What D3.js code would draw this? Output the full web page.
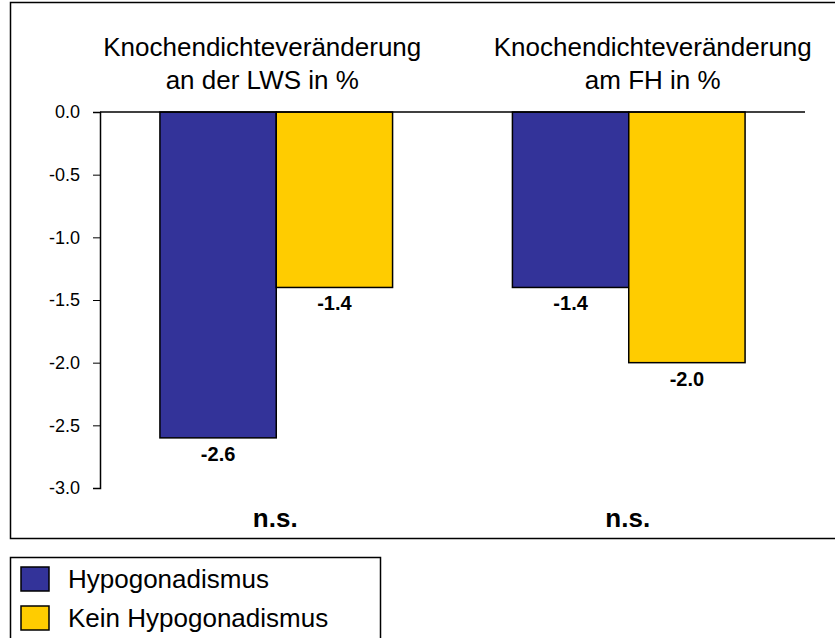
<!DOCTYPE html>
<html><head><meta charset="utf-8">
<script src="https://cdn.jsdelivr.net/npm/d3@7"></script>
<style>body{margin:0;background:#fff}text{font-family:"Liberation Sans",Arial,sans-serif}</style>
</head><body>
<svg id="chart" width="835" height="638"></svg>
<script>
const groups = ["LWS", "FH"];
const titles = [["Knochendichteveränderung", "an der LWS in %"], ["Knochendichteveränderung", "am FH in %"]];
const series = ["Hypogonadismus", "Kein Hypogonadismus"];
const values = [[-2.6, -1.4], [-1.4, -2.0]];
const ticks = [0, -0.5, -1.0, -1.5, -2.0, -2.5, -3.0];
const colors = ["#333399", "#FFCC00"];

const svg = d3.select("#chart");
svg.append("rect").attr("x", 10.5).attr("y", 2.5).attr("width", 835).attr("height", 536)
  .attr("fill", "none").attr("stroke", "#000").attr("stroke-width", 1.5);

const y = d3.scaleLinear().domain([0, -3]).range([112, 488]);
const x0 = d3.scaleBand().domain(groups).range([100, 805]).paddingInner(0.34).paddingOuter(0.17);
const x1 = d3.scaleBand().domain(series).range([0, x0.bandwidth()]);

svg.append("g").attr("transform", "translate(100,0)")
  .call(d3.axisLeft(y).tickValues(ticks).tickFormat(d => d.toFixed(1)).tickSize(7))
  .call(g => g.select(".domain").attr("stroke-width", 1.5))
  .call(g => g.selectAll("text").attr("font-size", 18).attr("x", -20).attr("fill", "#000"));

const titleShift = [-14, 24];
const nsShift = [-1, -1];
groups.forEach((gName, gi) => {
  const g = svg.append("g").attr("transform", `translate(${x0(gName)},0)`);
  values[gi].forEach((v, si) => {
    g.append("rect").attr("x", x1(series[si])).attr("y", y(0)).attr("width", x1.bandwidth())
      .attr("height", y(v) - y(0)).attr("fill", colors[si]).attr("stroke", "#000").attr("stroke-width", 1.5);
    g.append("text").attr("x", x1(series[si]) + x1.bandwidth() / 2).attr("y", y(v) + 23)
      .attr("text-anchor", "middle").attr("font-size", 20).attr("font-weight", "bold").text(v.toFixed(1));
  });
  const cx = x0.bandwidth() / 2;
  titles[gi].forEach((t, li) => g.append("text").attr("x", cx + titleShift[gi]).attr("y", 56 + li * 33)
    .attr("text-anchor", "middle").attr("font-size", 26).text(t));
  g.append("text").attr("x", cx + nsShift[gi]).attr("y", 527).attr("text-anchor", "middle")
    .attr("font-size", 26).attr("font-weight", "bold").text("n.s.");
});

svg.append("line").attr("x1", 100).attr("x2", 805).attr("y1", y(0)).attr("y2", y(0))
  .attr("stroke", "#000").attr("stroke-width", 1.5);

const leg = svg.append("g");
leg.append("rect").attr("x", 10.5).attr("y", 557.5).attr("width", 370).attr("height", 90)
  .attr("fill", "none").attr("stroke", "#000").attr("stroke-width", 1.5);
series.forEach((s, i) => {
  leg.append("rect").attr("x", 21).attr("y", 567 + i * 39).attr("width", 28).attr("height", 24)
    .attr("fill", colors[i]).attr("stroke", "#000").attr("stroke-width", 1.5);
  leg.append("text").attr("x", 68).attr("y", 588 + i * 39).attr("font-size", 26).text(s);
});
</script>
</body></html>
